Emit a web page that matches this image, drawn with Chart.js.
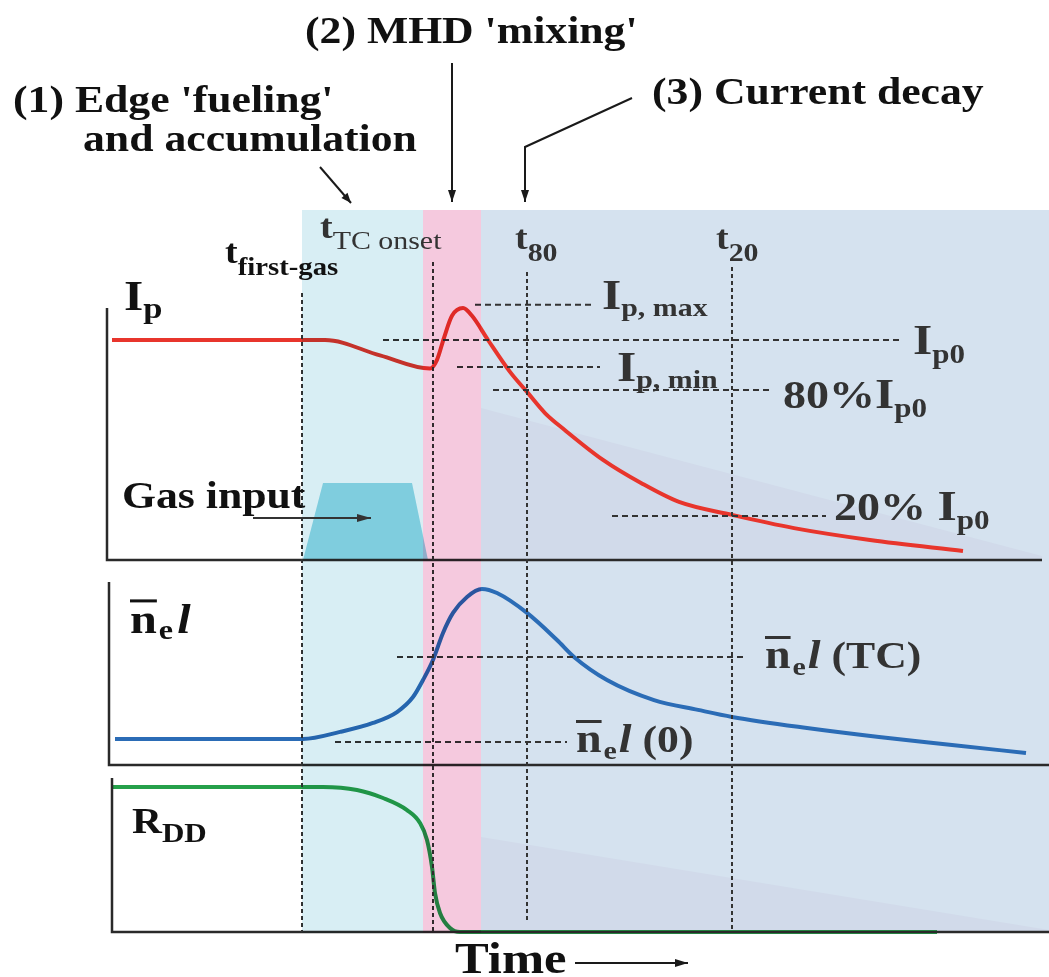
<!DOCTYPE html>
<html><head><meta charset="utf-8">
<script src="https://cdn.jsdelivr.net/npm/chart.js@4.4.1/dist/chart.umd.min.js"></script>
<style>html,body{margin:0;padding:0;background:#fff;}#wrap{position:relative;width:1049px;height:977px;}</style>
</head><body><div id="wrap"><canvas id="c"></canvas></div>
<script>
// ---- data (time in arbitrary units, 0 = first gas; signals normalised) ----
const ipTime  = [-19.0,-10.2,2.3,7.8,12.8,13.5,14.2,15.0,16.1,17.0,18.6,20.8,22.5,24.3,26.3,30.1,33.9,37.7,43.0,49.2,56.8,66.1];
const ipValue = [1.0,1.0,1.0,0.93,0.87,0.91,1.01,1.11,1.145,1.11,1.0,0.855,0.764,0.668,0.59,0.455,0.35,0.264,0.205,0.145,0.091,0.041];

const neTime  = [-18.7,0.1,3.8,7.1,9.5,11.1,12.1,13.1,14.1,15.1,16.5,18.0,19.5,22.5,25.5,27.2,30.5,35.2,39.6,43.0,50.5,57.7,65.0,72.4];
const neValue = [0.148,0.148,0.188,0.239,0.301,0.386,0.483,0.597,0.75,0.864,0.955,1.0,0.977,0.864,0.71,0.614,0.483,0.369,0.313,0.273,0.21,0.159,0.114,0.068];

const rddTime  = [-19.0,2.1,5.5,8.1,10.5,11.8,12.5,13.0,13.3,13.8,14.8,15.8,63.5];
const rddValue = [1.0,1.0,0.979,0.924,0.841,0.752,0.634,0.448,0.269,0.131,0.028,0.0,0.0];

const gasTime  = [0.1,2.1,11.0,12.6];
const gasValue = [0,0.35,0.35,0];

const ipRefNames = ['Ip,max','Ip0','Ip,min','80% Ip0','20% Ip0'];
const ipRefLevel = [1.16,1.0,0.877,0.773,0.2];
const ipRefStart = [17.3,8.1,15.5,19.1,31.0];
const ipRefEnd   = [29.0,59.8,29.8,46.8,52.4];

const neRefNames = ['ne l (TC)','ne l (0)'];
const neRefLevel = [0.614,0.131];
const neRefStart = [9.5,3.3];
const neRefEnd   = [44.5,26.5];

const markerNames = ['first-gas','TC onset','t80','t20'];
const markerTime  = [0.0,13.1,22.5,43.0];
const phaseStart  = [0.0,12.1,17.9];
const phaseEnd    = [12.1,17.9,74.7];

// ---- layout ----
const W = 1049, H = 977;
const timeRange = {min:-30.2, max:74.7};
const panels = { ip:{zeroPx:560, pxPerUnit:220}, ne:{zeroPx:765, pxPerUnit:176}, rdd:{zeroPx:932, pxPerUnit:145} };
function band(p){ return {min:-(H-p.zeroPx)/p.pxPerUnit, max:p.zeroPx/p.pxPerUnit, display:false}; }
function pts(xs, ys){ return xs.map((x,i)=>({x:x, y:ys[i]})); }

const refStyle = {borderColor:'#333', borderWidth:2, borderDash:[6,4], pointRadius:0, fill:false, tension:0};
const datasets = [
  {label:'Gas input', data:pts(gasTime,gasValue), yAxisID:'yIp', borderWidth:0, backgroundColor:'#96dce8', fill:'origin', pointRadius:0, tension:0},
  ...ipRefLevel.map((lv,i)=>Object.assign({label:ipRefNames[i], data:[{x:ipRefStart[i],y:lv},{x:ipRefEnd[i],y:lv}], yAxisID:'yIp'}, refStyle)),
  ...neRefLevel.map((lv,i)=>Object.assign({label:neRefNames[i], data:[{x:neRefStart[i],y:lv},{x:neRefEnd[i],y:lv}], yAxisID:'yNe'}, refStyle)),
  {label:'Ip', data:pts(ipTime,ipValue), yAxisID:'yIp', borderColor:'#e8352c', borderWidth:4, cubicInterpolationMode:'monotone', pointRadius:0, fill:false},
  {label:'ne l', data:pts(neTime,neValue), yAxisID:'yNe', borderColor:'#2b6cb6', borderWidth:4, cubicInterpolationMode:'monotone', pointRadius:0, fill:false},
  {label:'RDD', data:pts(rddTime,rddValue), yAxisID:'yRdd', borderColor:'#25a04a', borderWidth:4, cubicInterpolationMode:'monotone', pointRadius:0, fill:false}
];

const SX = 1.15;
const FONT = '"Liberation Serif","Times New Roman",serif';
function run(ctx, x, y, color, pieces){
  let cx = x;
  for (const p of pieces){
    ctx.save();
    ctx.font = (p.i?'italic ':'') + (p.w||'bold') + ' ' + p.s + 'px ' + FONT;
    ctx.fillStyle = p.c || color;
    ctx.textBaseline = 'alphabetic';
    const ox = cx + (p.dx||0);
    ctx.translate(ox, y + (p.dy||0));
    ctx.scale(SX,1);
    ctx.fillText(p.t,0,0);
    const w = ctx.measureText(p.t).width;
    if (p.bar) ctx.fillRect(0, -p.s*0.8, w, 3);
    ctx.restore();
    cx = ox + w*SX;
  }
}
function arrow(ctx, pts, head){
  ctx.beginPath(); ctx.moveTo(pts[0][0],pts[0][1]);
  for (let i=1;i<pts.length;i++) ctx.lineTo(pts[i][0],pts[i][1]);
  ctx.stroke();
  const a = pts[pts.length-2], b = pts[pts.length-1];
  const ang = Math.atan2(b[1]-a[1], b[0]-a[0]);
  const L = head||12, Wd = 4;
  ctx.beginPath();
  ctx.moveTo(b[0],b[1]);
  ctx.lineTo(b[0]-L*Math.cos(ang)+Wd*Math.sin(ang), b[1]-L*Math.sin(ang)-Wd*Math.cos(ang));
  ctx.lineTo(b[0]-L*Math.cos(ang)-Wd*Math.sin(ang), b[1]-L*Math.sin(ang)+Wd*Math.cos(ang));
  ctx.closePath(); ctx.fill();
}

const markerTop = [293,262,272,267];
const markerBottom = [932,932,920,932];
const phaseColors = ['#d8eef4','#f5c9de','#d5e2ef'];

const deco = {
  id:'deco',
  beforeDatasetsDraw(chart){
    const ctx = chart.ctx, xs = chart.scales.x;
    const y1 = chart.scales.yIp.getPixelForValue(0);
    const y3 = chart.scales.yRdd.getPixelForValue(0);
    const a = xs.getPixelForValue(phaseStart[2]), b = xs.getPixelForValue(phaseEnd[2]);
    ctx.save();
    ctx.fillStyle = phaseColors[2];
    ctx.fillRect(a, 210, b-a, y3+1-210);
    ctx.fillStyle = 'rgb(209,218,234)';
    ctx.beginPath(); ctx.moveTo(a,408); ctx.lineTo(1042,556); ctx.lineTo(1042,y1); ctx.lineTo(a,y1); ctx.closePath(); ctx.fill();
    ctx.beginPath(); ctx.moveTo(a,837); ctx.lineTo(W,930); ctx.lineTo(W,y3); ctx.lineTo(a,y3); ctx.closePath(); ctx.fill();
    ctx.restore();
  },
  afterDatasetsDraw(chart){
    const ctx = chart.ctx, xs = chart.scales.x;
    const y1 = chart.scales.yIp.getPixelForValue(0);
    const y2 = chart.scales.yNe.getPixelForValue(0);
    const y3 = chart.scales.yRdd.getPixelForValue(0);
    ctx.save();
    // panel axes
    ctx.strokeStyle = '#2a2a2a'; ctx.lineWidth = 2.5;
    [[[107,308],[107,y1],[1042,y1]],[[109,582],[109,y2],[W,y2]],[[112,778],[112,y3],[W,y3]]].forEach(pl=>{
      ctx.beginPath(); ctx.moveTo(pl[0][0],pl[0][1]); ctx.lineTo(pl[1][0],pl[1][1]); ctx.lineTo(pl[2][0],pl[2][1]); ctx.stroke();
    });
    // vertical time markers
    ctx.strokeStyle = '#333'; ctx.lineWidth = 2; ctx.setLineDash([4,3]);
    markerTime.forEach((t,i)=>{
      const x = xs.getPixelForValue(t);
      ctx.beginPath(); ctx.moveTo(x,markerTop[i]); ctx.lineTo(x,markerBottom[i]); ctx.stroke();
    });
    ctx.setLineDash([]);
    // phase shading (1) and (2), multiplied over curves
    ctx.globalCompositeOperation = 'multiply';
    for (let i=0;i<2;i++){
      const a = xs.getPixelForValue(phaseStart[i]), b = xs.getPixelForValue(phaseEnd[i]);
      ctx.fillStyle = phaseColors[i];
      ctx.fillRect(a, 210, b-a, y3+1-210);
    }
    ctx.globalCompositeOperation = 'source-over';

    // arrows
    ctx.strokeStyle = '#1a1a1a'; ctx.fillStyle = '#1a1a1a'; ctx.lineWidth = 2;
    arrow(ctx, [[452,63],[452,202]], 12);
    arrow(ctx, [[632,98],[525,147],[525,202]], 12);
    arrow(ctx, [[320,167],[351,203]], 10);
    arrow(ctx, [[575,963],[688,963]], 13);
    ctx.strokeStyle = '#333'; ctx.fillStyle = '#333';
    arrow(ctx, [[253,518],[371,518]], 14);

    // texts
    const K = '#111', G = '#333';
    run(ctx,305,43,K,[{t:"(2) MHD 'mixing'",s:38}]);
    run(ctx,13,112,K,[{t:"(1) Edge 'fueling'",s:38}]);
    run(ctx,83,151,K,[{t:"and accumulation",s:38}]);
    run(ctx,652,104,K,[{t:"(3) Current decay",s:38}]);
    run(ctx,225,263,K,[{t:'t',s:33},{t:'first-gas',s:25,dy:12}]);
    run(ctx,320,238,G,[{t:'t',s:33},{t:'TC onset',s:26,dy:11,w:'normal'}]);
    run(ctx,515,249,G,[{t:'t',s:33},{t:'80',s:26,dy:12}]);
    run(ctx,716,249,G,[{t:'t',s:33},{t:'20',s:26,dy:12}]);
    run(ctx,124,310,K,[{t:'I',s:43},{t:'p',s:30,dy:8}]);
    run(ctx,602,309,G,[{t:'I',s:43},{t:'p, max',s:26,dy:7}]);
    run(ctx,913,354,G,[{t:'I',s:43},{t:'p0',s:27,dy:9}]);
    run(ctx,617,381,G,[{t:'I',s:43},{t:'p, min',s:26,dy:7}]);
    run(ctx,783,408,G,[{t:'80%',s:40},{t:'I',s:43},{t:'p0',s:27,dy:9}]);
    run(ctx,834,520,G,[{t:'20% ',s:40},{t:'I',s:43},{t:'p0',s:27,dy:9}]);
    run(ctx,122,508,K,[{t:'Gas input',s:38}]);
    run(ctx,130,633,K,[{t:'n',s:42,bar:true},{t:'e',s:28,dy:6,dx:2},{t:'l',s:42,i:true,dx:4}]);
    run(ctx,765,668,G,[{t:'n',s:40,bar:true},{t:'e',s:26,dy:7,dx:2},{t:'l',s:40,i:true,dx:2},{t:' (TC)',s:38}]);
    run(ctx,576,752,G,[{t:'n',s:40,bar:true},{t:'e',s:26,dy:7,dx:2},{t:'l',s:40,i:true,dx:2},{t:' (0)',s:38}]);
    run(ctx,132,833,K,[{t:'R',s:36},{t:'DD',s:27,dy:9}]);
    run(ctx,455,973,K,[{t:'Time',s:44}]);
    ctx.restore();
  }
};

new Chart(document.getElementById('c'), {
  type:'line',
  data:{datasets:datasets},
  options:{
    responsive:true, maintainAspectRatio:false, animation:false, events:[],
    layout:{padding:0},
    plugins:{legend:{display:false}, tooltip:{enabled:false}, title:{display:false}},
    scales:{
      x:{type:'linear', min:timeRange.min, max:timeRange.max, display:false},
      yIp:Object.assign({type:'linear', position:'left'}, band(panels.ip)),
      yNe:Object.assign({type:'linear', position:'left'}, band(panels.ne)),
      yRdd:Object.assign({type:'linear', position:'left'}, band(panels.rdd))
    }
  },
  plugins:[deco]
});
</script></body></html>
